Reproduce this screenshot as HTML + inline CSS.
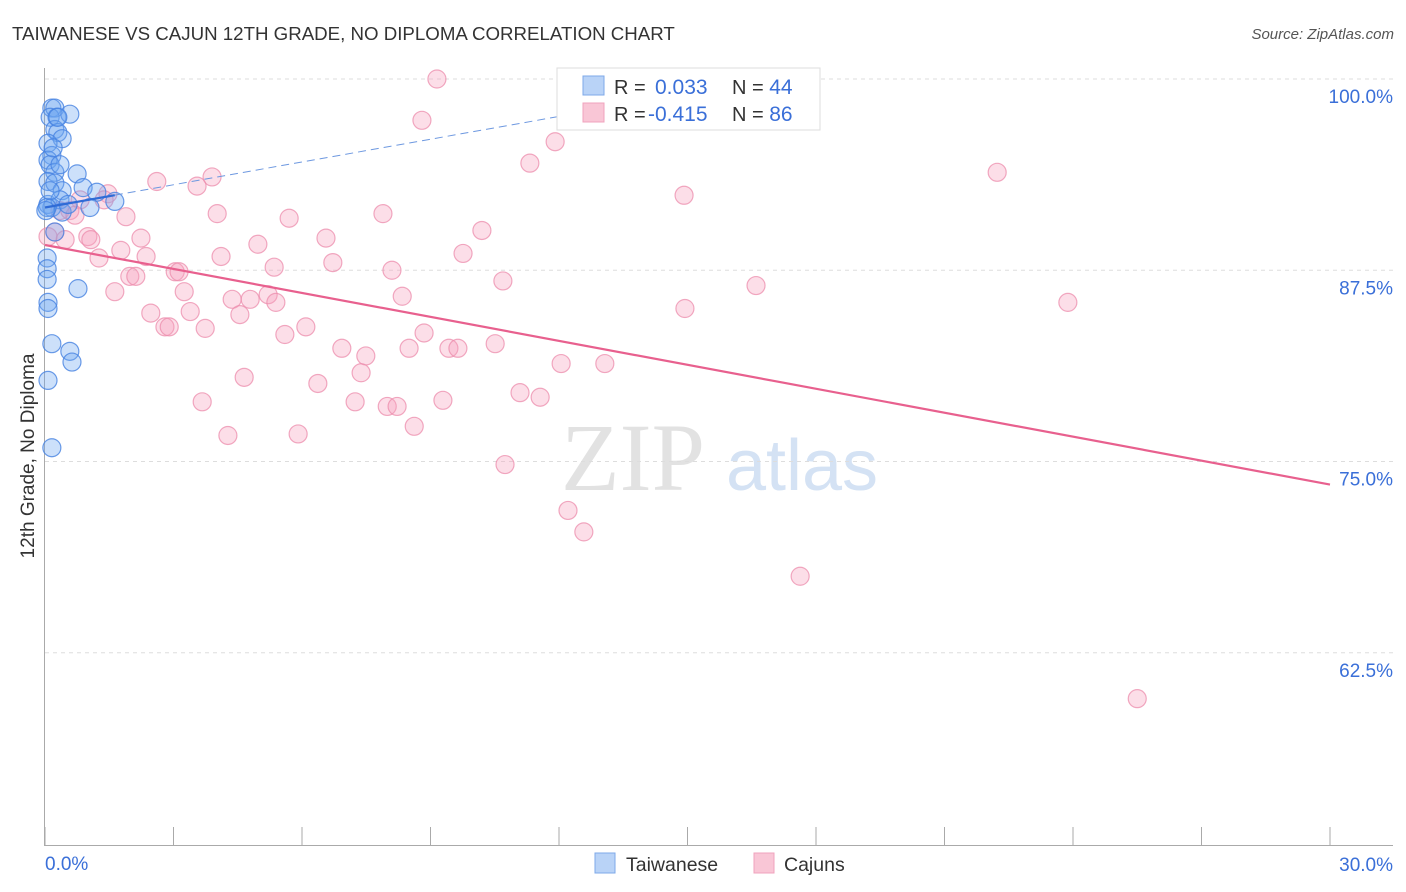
<!DOCTYPE html>
<html><head><meta charset="utf-8"><style>
body{margin:0;background:#fff;font-family:"Liberation Sans",sans-serif}
svg{display:block}
</style></head><body>
<svg id="chart" width="1406" height="892">
<text x="12" y="40" font-size="18.7" fill="#333">TAIWANESE VS CAJUN 12TH GRADE, NO DIPLOMA CORRELATION CHART</text>
<text x="1394" y="39" font-size="15" fill="#555" font-style="italic" text-anchor="end">Source: ZipAtlas.com</text>
<text transform="translate(34,456) rotate(-90)" font-size="19" fill="#333" text-anchor="middle">12th Grade, No Diploma</text>
<g>
<text x="633" y="490" font-size="96" font-family="Liberation Serif,serif" fill="#e2e2e2" text-anchor="middle">ZIP</text>
<text x="802" y="490" font-size="72" fill="#d4e2f4" text-anchor="middle">atlas</text>
</g>
<g id="grid"></g><g id="axes"></g><g id="pts"></g><g id="lines"></g>
<g>
<rect x="557" y="68" width="263" height="62" fill="#fff" stroke="#ddd"/>
<rect x="583" y="76" width="21" height="19" fill="#b9d3f7" stroke="#7ea8e8"/>
<rect x="583" y="103" width="21" height="19" fill="#f9c6d6" stroke="#f0a3bd"/>
<text x="614" y="94" font-size="20" fill="#333">R = <tspan fill="#3a6fd8" x="655" font-size="21">0.033</tspan></text>
<text x="732" y="94" font-size="20" fill="#333">N = <tspan fill="#3a6fd8" font-size="21">44</tspan></text>
<text x="614" y="121" font-size="20" fill="#333">R = <tspan fill="#3a6fd8" x="648" font-size="21">-0.415</tspan></text>
<text x="732" y="121" font-size="20" fill="#333">N = <tspan fill="#3a6fd8" font-size="21">86</tspan></text>
</g>
<g>
<rect x="595" y="853" width="20" height="20" fill="#b9d3f7" stroke="#7ea8e8"/>
<text x="626" y="871" font-size="19.5" fill="#333">Taiwanese</text>
<rect x="754" y="853" width="20" height="20" fill="#f9c6d6" stroke="#f0a3bd"/>
<text x="784" y="871" font-size="19.5" fill="#333">Cajuns</text>
</g>
</svg>
<script>
const blueX=[0.16,0.23,0.12,0.28,0.23,0.30,0.58,0.40,0.07,0.16,0.07,0.12,0.23,0.75,0.07,0.23,0.40,0.89,1.21,1.63,0.07,0.16,0.35,1.05,0.40,0.23,0.05,0.05,0.05,0.77,0.07,0.07,0.16,0.58,0.63,0.07,0.16,0.05,0.12,0.30,0.19,0.02,0.54,0.35];
const blueY=[98.1,98.1,97.5,97.5,96.7,96.5,97.7,96.1,95.8,95.0,94.7,94.4,93.9,93.8,93.3,93.2,92.7,92.9,92.6,92.0,91.8,91.6,92.1,91.6,91.3,90.0,88.3,87.6,86.9,86.3,85.4,85.0,82.7,82.2,81.5,80.3,75.9,91.6,92.7,97.5,95.5,91.4,91.8,94.4];
const pinkX=[9.15,8.80,11.91,11.32,3.90,2.61,3.55,22.23,14.92,1.47,1.38,0.82,0.35,0.58,0.70,1.89,4.02,5.70,7.89,10.20,0.23,0.47,1.00,1.07,2.24,4.97,6.56,9.76,2.36,1.26,1.77,4.11,6.72,5.35,8.10,10.69,1.98,2.12,3.04,3.13,1.63,3.25,16.60,23.88,14.94,2.47,3.39,4.37,4.79,5.21,5.39,8.34,4.55,2.80,2.90,3.74,6.09,5.60,8.85,6.93,7.49,8.50,9.43,9.64,10.51,12.05,13.07,4.65,7.38,6.37,11.09,11.56,3.67,7.24,7.99,8.22,9.29,8.62,4.27,5.91,10.74,12.21,12.58,17.63,25.50,0.07];
const pinkY=[100.0,97.3,95.9,94.5,93.6,93.3,93.0,93.9,92.4,92.5,92.1,92.1,91.4,91.4,91.1,91.0,91.2,90.9,91.2,90.1,90.0,89.5,89.7,89.5,89.6,89.2,89.6,88.6,88.4,88.3,88.8,88.4,88.0,87.7,87.5,86.8,87.1,87.1,87.4,87.4,86.1,86.1,86.5,85.4,85.0,84.7,84.8,85.6,85.6,85.9,85.4,85.8,84.6,83.8,83.8,83.7,83.8,83.3,83.4,82.4,81.9,82.4,82.4,82.4,82.7,81.4,81.4,80.5,80.8,80.1,79.5,79.2,78.9,78.9,78.6,78.6,79.0,77.3,76.7,76.8,74.8,71.8,70.4,67.5,59.5,89.7];
const yTicks=[100,87.5,75,62.5];
const yTickLabels=["100.0%","87.5%","75.0%","62.5%"];
const xTicks=[0,3,6,9,12,15,18,21,24,27,30];
const blueFit=[91.6,0.496];  // intercept, slope
const pinkFit=[89.15,-0.522];
const X=v=>45+v*1285/30, Y=v=>79+(100-v)*15.3;
const NS="http://www.w3.org/2000/svg";
function mk(t,a,p){const e=document.createElementNS(NS,t);for(const k in a)e.setAttribute(k,a[k]);p.appendChild(e);return e;}
const grid=document.getElementById('grid'),axes=document.getElementById('axes'),pts=document.getElementById('pts'),lines=document.getElementById('lines');
yTicks.forEach((v,i)=>{
  const g=mk('line',{x1:45,x2:1393,y1:Y(v),y2:Y(v),stroke:'#ddd','stroke-dasharray':'4,4'},grid);
  
  
  const t=mk('text',{x:1393,y:Y(v)+24,'font-size':19,fill:'#3a6fd8','text-anchor':'end'},axes);
  t.textContent=yTickLabels[i];
  
  
});
const ya=mk('line',{x1:44.5,x2:44.5,y1:68,y2:845,stroke:'#aaa'},axes);


const xa=mk('line',{x1:44,x2:1393,y1:845.5,y2:845.5,stroke:'#aaa'},axes);


xTicks.forEach(v=>{
  const t=mk('line',{x1:X(v),x2:X(v),y1:827,y2:845,stroke:'#aaa'},axes);
  
  
});
const xl0=mk('text',{x:45,y:870,'font-size':19,fill:'#3a6fd8'},axes);xl0.textContent="0.0%";


const xl1=mk('text',{x:1393,y:871,'font-size':19,fill:'#3a6fd8','text-anchor':'end'},axes);xl1.textContent="30.0%";


pinkX.forEach((x,i)=>{
  const c=mk('circle',{cx:X(x),cy:Y(pinkY[i]),r:9,fill:'rgba(245,160,190,0.35)',stroke:'rgba(236,140,172,0.75)','stroke-width':1.2},pts);
  
  
});
blueX.forEach((x,i)=>{
  const c=mk('circle',{cx:X(x),cy:Y(blueY[i]),r:9,fill:'rgba(110,165,240,0.35)',stroke:'rgba(70,130,225,0.8)','stroke-width':1.2},pts);
  
  
});
const pl=mk('line',{x1:X(0),y1:Y(pinkFit[0]),x2:X(30),y2:Y(pinkFit[0]+pinkFit[1]*30),stroke:'#e8608e','stroke-width':2.2},lines);


const bxMax=Math.max(...blueX);
const bl=mk('line',{x1:X(0),y1:Y(blueFit[0]),x2:X(bxMax),y2:Y(blueFit[0]+blueFit[1]*bxMax),stroke:'#2f6bd6','stroke-width':2.2},lines);


const xEnd=12;
const bd=mk('line',{x1:X(bxMax),y1:Y(blueFit[0]+blueFit[1]*bxMax),x2:X(xEnd),y2:Y(blueFit[0]+blueFit[1]*xEnd),stroke:'#6d98e0','stroke-width':1,'stroke-dasharray':'8,5'},lines);


</script>
</body></html>
